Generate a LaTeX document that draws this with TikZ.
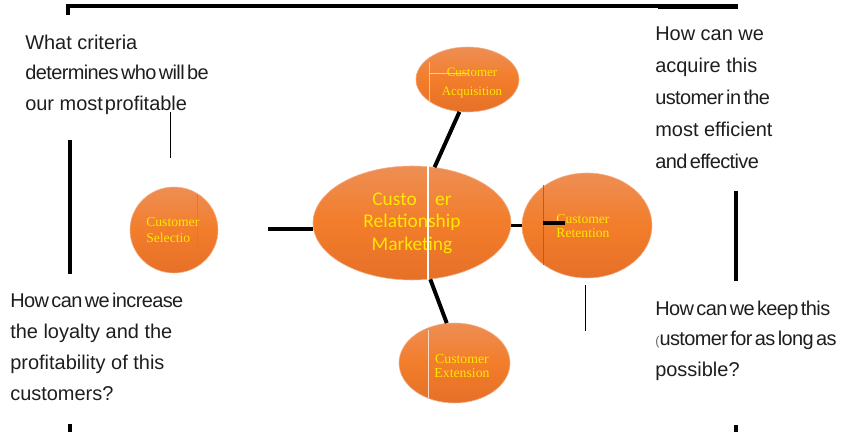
\documentclass[tikz,border=0pt]{standalone}
\usepackage{fontspec}
\usetikzlibrary{shapes.geometric}
\setmainfont{Liberation Sans}
\newfontfamily\calib{Carlito}
\newfontfamily\tagfont{Liberation Serif}
\definecolor{crmtop}{RGB}{238,142,84}
\definecolor{crmmid}{RGB}{242,125,42}
\definecolor{crmbot}{RGB}{230,112,40}
\definecolor{crmedge}{RGB}{242,178,140}
\definecolor{crmtext}{RGB}{255,232,0}
\definecolor{qtext}{RGB}{30,30,30}
\newcommand{\squeezed}[1]{{\addfontfeatures{LetterSpace=-3}\spaceskip=0.12em\relax #1}}

\begin{document}
\begin{tikzpicture}[
        bubble/.style={ellipse, draw=crmedge, line width=0.4pt, inner sep=0pt,
            top color=crmtop, bottom color=crmbot, middle color=crmmid},
        tag/.style={text=crmtext, font=\tagfont\fontsize{9.5}{10.5}\selectfont, align=center, inner sep=0pt},
        question/.style={text=qtext, align=left, inner sep=0pt, anchor=north west},
        link/.style={line width=2.8pt},
        frame/.style={line width=2.6pt},
        pointer/.style={line width=0.7pt}
    ]
        \useasboundingbox (0,0) rectangle (21.05,10.8);

        % Frame around the questions
        \draw[frame] (1.7,10.42) -- (1.7,10.65) -- (18.45,10.65);
        \draw[line width=3pt] (16.45,10.64) -- (18.45,10.64);
        \draw[frame] (1.75,7.3) -- (1.75,3.95);
        \draw[frame] (1.75,0.2) -- (1.75,0);
        \draw[frame] (18.4,6.025) -- (18.4,3.775);
        \draw[frame] (18.4,0.175) -- (18.4,0);

        % The five bubbles
        \node[bubble, minimum width=4.95cm, minimum height=2.85cm,
            text=crmtext, font=\calib\fontsize{13.8}{16}\selectfont, align=center]
            (main) at (10.3,5.225) {Custo\hspace{0.95em}er\\Relationship\\Marketing};
        \node[bubble, minimum width=2.575cm, minimum height=1.625cm] (acq) at (11.6875,8.8125) {};
        \node[bubble, minimum width=3.25cm, minimum height=2.625cm] (ret) at (14.675,5.1625) {};
        \node[bubble, minimum width=2.775cm, minimum height=2.0cm] (ext) at (11.3625,1.725) {};
        \node[bubble, minimum width=2.2cm, minimum height=2.15cm] (sel) at (4.35,5.05) {};

        % stray lines left over on the bubbles
        \draw[white, line width=1pt] (10.7,6.65) -- (10.7,3.8);
        \draw[black!20, line width=0.5pt] (10.725,9.25) -- (10.725,8.25);
        \draw[crmtext, line width=0.6pt] (10.725,8.975) -- (11.7,8.975);
        \draw[black!25!crmmid, line width=0.4pt] (13.575,6.175) -- (13.575,4.175);
        \draw[white!75!crmmid, line width=0.6pt] (10.71,2.55) -- (10.71,0.85);
        \draw[black!5!crmmid, line width=0.3pt] (4.925,5.925) -- (4.925,4.25);

        \node[tag, font=\tagfont\fontsize{9.2}{13.5}\selectfont] (acqtxt) at (11.8,8.725) {Customer\\Acquisition};
        \node[tag, font=\tagfont\fontsize{9.7}{10.5}\selectfont] (rettxt) at (14.575,5.15) {Customer\\Retention};
        \node[tag, font=\tagfont\fontsize{9.8}{10.2}\selectfont] (exttxt) at (11.55,1.65) {Customer\\Extension};
        \node[tag, font=\tagfont\fontsize{9.7}{11.2}\selectfont, align=left, anchor=west] (seltxt) at (3.65,5.05) {Customer\\Selectio};

        % Connectors
        \coordinate (selend) at (6.7,5.075);
        \draw[link] (selend) -- (selend -| main.west);
        \draw[link] (main.68) -- (acq.256);
        \draw[link] (ret.west) -- (ret.west -| main.east);
        \draw[link] (13.575,5.225) -- (14.125,5.225);
        \draw[link] (main.288) -- (ext.101);

        % Questions
        \node[question, font=\fontsize{14.2}{21.7}\selectfont] (critq) at (0.625,9.9375)
            {What criteria\\\squeezed{determines who will be}\\our most\hspace{0.1em}profitable};
        \node[question, font=\fontsize{14.2}{22.8}\selectfont] (acqq) at (16.375,10.1375)
            {How can we\\acquire this\\\squeezed{ustomer in the}\\most efficient\\\squeezed{and effective}};
        \node[question, font=\fontsize{14.2}{22}\selectfont] (incq) at (0.25,3.4875)
            {\squeezed{How can we increase}\\the loyalty and the\\profitability of this\\customers?};
        \node[question, font=\fontsize{14.2}{21.7}\selectfont] (keepq) at (16.375,3.2875)
            {\squeezed{How can we keep this}\\\squeezed{{\small\color{black!60}(}ustomer for as long as}\\possible?};

        % pointers under the questions
        \draw[pointer] (4.25,8.0) -- (4.25,6.85);
        \draw[pointer] (14.625,3.675) -- (14.625,2.525);
    \end{tikzpicture}
\end{document}
